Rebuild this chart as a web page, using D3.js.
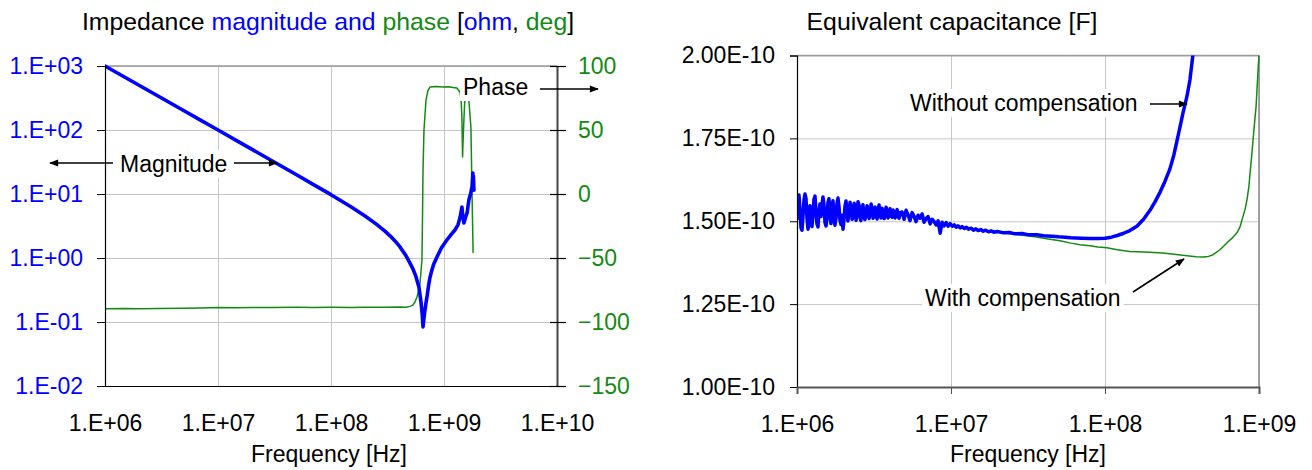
<!DOCTYPE html>
<html>
<head>
<meta charset="utf-8">
<script src="https://cdn.jsdelivr.net/npm/d3@7"></script>
<style>
  body { margin: 0; background: #fff; }
  svg { display: block; }
  text { font-family: "Liberation Sans", Arial, Helvetica, sans-serif; }
</style>
</head>
<body>
<svg id="chart" width="1312" height="470"></svg>
<script>
// ---------------- data ----------------
// Impedance panel
const impFreqTicks = [1e6, 1e7, 1e8, 1e9, 1e10];
const magTicks = [1e-2, 1e-1, 1e0, 1e1, 1e2, 1e3];
const phaseTicks = [-150, -100, -50, 0, 50, 100];

// |Z| in ohm vs frequency in Hz
const magnitude = [
  [1e6, 1000], [1.5e6, 668], [2e6, 500], [3e6, 334], [5e6, 200], [7e6, 143],
  [1e7, 100], [1.5e7, 66.5], [2e7, 49.8], [3e7, 33.1], [5e7, 19.8], [7e7, 14.0],
  [1e8, 9.76], [1.5e8, 6.31], [2e8, 4.53], [2.5e8, 3.41], [3e8, 2.63], [3.33e8, 2.22],
  [3.7e8, 1.83], [4.08e8, 1.49], [4.6e8, 1.09], [5.0e8, 0.83], [5.32e8, 0.67],
  [5.65e8, 0.51], [6.0e8, 0.35], [6.25e8, 0.21], [6.42e8, 0.13], [6.52e8, 0.084],
  [6.7e8, 0.13], [6.9e8, 0.19], [7.1e8, 0.26], [7.3e8, 0.37], [7.52e8, 0.50],
  [7.8e8, 0.64], [8.1e8, 0.80], [8.67e8, 1.04], [9.5e8, 1.45], [1.06e9, 1.91],
  [1.15e9, 2.3], [1.25e9, 2.74], [1.33e9, 3.3], [1.39e9, 4.37], [1.44e9, 6.26],
  [1.47e9, 4.3], [1.50e9, 3.52], [1.55e9, 4.3], [1.60e9, 5.05], [1.66e9, 8.06],
  [1.72e9, 10.2], [1.77e9, 12.9], [1.80e9, 21.3], [1.81e9, 13.0], [1.82e9, 19.0],
  [1.84e9, 11.5]
];

// phase in degrees vs frequency in Hz
const phase = [
  [1e6, -89.6], [1.5e6, -89.5], [2e6, -89.7], [3e6, -89.4], [5e6, -89.3], [7e6, -89.0],
  [1e7, -88.7], [1.5e7, -88.8], [2e7, -88.6], [3e7, -88.7], [5e7, -88.5], [7e7, -88.6],
  [1e8, -88.5], [1.5e8, -88.6], [2e8, -88.4], [3e8, -88.5], [4e8, -88.3], [4.6e8, -88.4],
  [5.0e8, -87.8], [5.3e8, -86.8], [5.53e8, -84.4], [5.77e8, -80.5], [6.1e8, -72.0],
  [6.38e8, -51.6], [6.45e8, -20.0], [6.52e8, 18.8], [6.65e8, 50.0], [6.93e8, 73.4],
  [7.2e8, 80.5], [7.52e8, 83.6], [8.5e8, 84.0], [9.8e8, 83.6], [1.1e9, 83.8],
  [1.2e9, 83.2], [1.30e9, 82.8], [1.36e9, 80.5], [1.39e9, 78.9], [1.42e9, 72.0],
  [1.44e9, 60.0], [1.46e9, 28.9], [1.48e9, 45.0], [1.50e9, 57.8], [1.53e9, 75.0],
  [1.57e9, 76.5], [1.60e9, 75.8], [1.66e9, 73.0], [1.73e9, 52.3], [1.77e9, 0.8],
  [1.81e9, -46.0]
];

// Capacitance panel
const capFreqTicks = [1e6, 1e7, 1e8, 1e9];
const capTicks = [1.00e-10, 1.25e-10, 1.50e-10, 1.75e-10, 2.00e-10];

// noisy low-frequency band, common to both measurements: [MHz, pF]
const capLowBand = [
  [1.000, 150.5], [1.015, 155.8], [1.030, 157.9], [1.046, 153.2], [1.062, 148.0],
  [1.078, 147.3], [1.094, 151.6], [1.110, 156.4], [1.127, 158.2], [1.144, 156.9],
  [1.161, 150.8], [1.179, 147.6], [1.196, 149.9], [1.214, 154.7], [1.233, 152.1],
  [1.251, 148.4], [1.270, 151.9], [1.289, 156.6], [1.309, 157.6], [1.328, 153.0],
  [1.348, 149.1], [1.369, 148.3], [1.389, 152.8], [1.410, 155.2], [1.431, 151.4],
  [1.453, 154.9], [1.475, 157.3], [1.497, 155.0], [1.520, 149.6], [1.543, 148.6],
  [1.566, 150.7], [1.589, 155.6], [1.613, 156.8], [1.638, 152.4], [1.662, 149.3],
  [1.687, 153.6], [1.713, 156.2], [1.739, 151.1], [1.765, 148.8], [1.791, 150.9],
  [1.818, 155.3], [1.846, 157.0], [1.874, 154.4], [1.902, 150.2], [1.931, 149.0],
  [1.960, 151.8], [1.989, 147.6], [2.019, 150.4], [2.050, 154.6], [2.080, 156.1],
  [2.110, 153.5], [2.140, 150.1], [2.180, 152.7], [2.210, 155.7], [2.240, 154.0],
  [2.280, 150.6], [2.310, 151.3], [2.350, 155.4], [2.380, 153.0], [2.420, 150.3],
  [2.450, 152.4], [2.490, 155.9], [2.530, 154.8], [2.570, 151.0], [2.600, 150.2],
  [2.640, 153.1], [2.680, 155.0], [2.720, 152.2], [2.760, 150.5], [2.810, 151.9],
  [2.850, 154.7], [2.890, 153.6], [2.940, 150.8], [2.980, 152.6], [3.030, 155.2],
  [3.070, 153.4], [3.120, 150.9], [3.160, 151.7], [3.210, 154.3], [3.260, 152.0],
  [3.310, 150.7], [3.360, 153.3], [3.410, 154.9], [3.460, 151.8], [3.510, 151.0],
  [3.570, 153.9], [3.620, 152.4], [3.680, 150.8], [3.730, 152.3], [3.790, 154.2],
  [3.840, 152.9], [3.900, 151.0], [3.960, 152.1], [4.020, 153.8], [4.080, 151.6],
  [4.140, 151.2], [4.210, 153.4], [4.270, 152.5], [4.330, 151.0], [4.400, 152.2],
  [4.470, 153.5], [4.530, 151.5], [4.600, 150.9], [4.670, 152.6], [4.810, 152.8],
  [4.960, 150.6], [5.110, 153.3], [5.260, 151.9], [5.420, 150.2], [5.590, 152.6],
  [5.760, 151.5], [5.930, 149.9], [6.110, 151.8], [6.300, 150.9], [6.490, 152.2],
  [6.690, 149.7], [6.890, 150.8], [7.100, 151.4], [7.320, 149.2], [7.540, 150.6],
  [7.770, 149.9], [8.000, 148.9], [8.250, 150.1], [8.500, 146.4], [8.760, 149.7],
  [9.020, 148.6], [9.300, 149.6], [9.580, 148.5], [9.870, 149.3], [10.20, 148.5],
  [10.50, 148.9], [10.80, 148.2], [11.10, 148.6], [11.50, 148.0], [11.80, 148.4],
  [12.20, 147.8], [12.60, 148.2], [13.00, 147.6], [13.50, 147.9], [14.00, 147.3],
  [14.50, 147.7], [15.00, 147.2], [15.60, 147.5], [16.20, 147.0], [16.80, 147.3],
  [17.50, 146.8], [18.20, 147.1], [19.00, 146.7], [20.00, 146.9]
];

// high-frequency part without compensation: [MHz, pF]
const capWithoutTail = [
  [22, 146.5], [24, 146.6], [26, 146.2], [29, 146.3], [32, 145.9], [36, 145.9],
  [40, 145.6], [45, 145.5], [50, 145.3], [55, 145.2], [60, 145.0], [70, 144.9],
  [80, 144.8], [90, 144.8], [100, 144.9], [110, 145.2], [120, 145.7], [131, 146.3],
  [145, 147.2], [161, 148.5], [178, 150.6], [196, 153.3], [212, 156.0], [228, 158.8],
  [245, 162.0], [264, 165.8], [280, 170.0], [294, 174.5], [308, 178.8], [321, 182.7],
  [341, 187.8], [356, 192.6], [373, 200.5]
];

// high-frequency part with compensation: [MHz, pF]
const capWithTail = [
  [23, 146.4], [27, 146.0], [30, 145.7], [35, 145.3], [40, 144.9], [45, 144.5],
  [51, 144.1], [60, 143.4], [69, 142.9], [80, 142.6], [90, 142.2], [103, 142.0],
  [120, 141.4], [145, 140.9], [180, 140.7], [238, 140.4], [290, 140.0], [341, 139.6],
  [390, 139.3], [433, 139.2], [470, 139.4], [503, 139.9], [558, 141.4], [620, 143.5],
  [668, 144.9], [719, 146.5], [753, 148.3], [776, 150.5], [811, 153.5], [836, 156.5],
  [861, 160.7], [875, 164.6], [901, 170.9], [915, 174.5], [942, 181.2], [957, 184.5],
  [978, 192.6], [989, 196.5], [1000, 200.4]
];

const capWithout = capLowBand.concat(capWithoutTail);
const capWith = capLowBand.concat(capWithTail);

// ---------------- drawing ----------------
const BLUE = "#0000ff";
const GREEN = "#138a13";
const GRID = "#c6c6c6";
const LABEL_SIZE = "23px";
const TITLE_SIZE = "24.8px";
const MHZ = 1e6, PF = 1e-12;

const svg = d3.select("#chart");

const defs = svg.append("defs");
defs.append("marker")
  .attr("id", "arrowhead")
  .attr("viewBox", "0 -5 10 10")
  .attr("refX", 9).attr("refY", 0)
  .attr("markerUnits", "userSpaceOnUse")
  .attr("markerWidth", 10).attr("markerHeight", 9)
  .attr("orient", "auto")
  .append("path").attr("d", "M0,-4L10,0L0,4Z").attr("fill", "#000");

const decadeLabel = v => {
  const e = Math.round(Math.log10(v));
  return "1.E" + (e < 0 ? "-" : "+") + String(Math.abs(e)).padStart(2, "0");
};
const capLabel = v => v.toExponential(2).toUpperCase();

function styleGrid(g) {
  g.select(".domain").remove();
  g.selectAll(".tick line").attr("stroke", GRID).attr("stroke-width", 1);
}

function annotate(parent, x, y, label, anchor) {
  const t = parent.append("text")
    .attr("x", x).attr("y", y)
    .attr("text-anchor", anchor || "start")
    .attr("font-size", LABEL_SIZE).attr("fill", "#000")
    .text(label);
  const b = t.node().getBBox();
  parent.insert("rect", () => t.node())
    .attr("x", b.x - 3).attr("y", b.y - 1)
    .attr("width", b.width + 6).attr("height", b.height + 2)
    .attr("fill", "#fff");
  return t;
}

function arrow(parent, x1, y1, x2, y2) {
  parent.append("line")
    .attr("x1", x1).attr("y1", y1).attr("x2", x2).attr("y2", y2)
    .attr("stroke", "#000").attr("stroke-width", 1.6)
    .attr("marker-end", "url(#arrowhead)");
}

// ===== Left panel: impedance magnitude and phase =====
const L = { x0: 105, x1: 557, y0: 66, y1: 386 };
const xL = d3.scaleLog().domain([1e6, 1e10]).range([L.x0, L.x1]);
const yMag = d3.scaleLog().domain([1e-2, 1e3]).range([L.y1, L.y0]);
const yPh = d3.scaleLinear().domain([-150, 100]).range([L.y1, L.y0]);

const gL = svg.append("g");

// grid
gL.append("g").attr("transform", `translate(0,${L.y1})`)
  .call(d3.axisBottom(xL).tickValues(impFreqTicks).tickSize(-(L.y1 - L.y0)).tickFormat(""))
  .call(styleGrid);
gL.append("g").attr("transform", `translate(${L.x0},0)`)
  .call(d3.axisLeft(yMag).tickValues(magTicks).tickSize(-(L.x1 - L.x0)).tickFormat(""))
  .call(styleGrid);

// frame
gL.append("line").attr("x1", L.x0).attr("x2", L.x1).attr("y1", L.y0).attr("y2", L.y0)
  .attr("stroke", "#9a9a9a").attr("stroke-width", 1.5);

// curves
defs.append("clipPath").attr("id", "clipL").append("rect")
  .attr("x", L.x0).attr("y", L.y0 - 2).attr("width", L.x1 - L.x0).attr("height", L.y1 - L.y0 + 2);
const curvesL = gL.append("g").attr("clip-path", "url(#clipL)");
curvesL.append("path").datum(phase)
  .attr("fill", "none").attr("stroke", GREEN).attr("stroke-width", 1.5)
  .attr("stroke-linejoin", "round")
  .attr("d", d3.line().x(d => xL(d[0])).y(d => yPh(d[1])));
curvesL.append("path").datum(magnitude)
  .attr("fill", "none").attr("stroke", BLUE).attr("stroke-width", 3.6)
  .attr("stroke-linejoin", "round").attr("stroke-linecap", "round")
  .attr("d", d3.line().x(d => xL(d[0])).y(d => yMag(d[1])));

// left axis (magnitude)
const axMag = gL.append("g").attr("transform", `translate(${L.x0},0)`)
  .call(d3.axisLeft(yMag).tickValues(magTicks).tickSize(8).tickPadding(14).tickFormat(decadeLabel));
axMag.select(".domain").attr("stroke", "#000").attr("stroke-width", 1.2);
axMag.selectAll(".tick line").attr("stroke", "#000");
axMag.selectAll(".tick text").attr("fill", BLUE).attr("font-size", LABEL_SIZE)
  .attr("font-family", null);

// right axis (phase), ticks crossing the axis line
const axPh = gL.append("g").attr("transform", `translate(${L.x1},0)`)
  .call(d3.axisRight(yPh).tickValues(phaseTicks).tickSize(0).tickPadding(21));
axPh.select(".domain").attr("stroke", "#444").attr("stroke-width", 2);
axPh.selectAll(".tick text").attr("fill", GREEN).attr("font-size", LABEL_SIZE)
  .attr("font-family", null);
axPh.selectAll(".tick").append("line")
  .attr("x1", -7).attr("x2", 9).attr("stroke", "#000").attr("stroke-width", 1.2);

// bottom axis
const axXL = gL.append("g").attr("transform", `translate(0,${L.y1})`)
  .call(d3.axisBottom(xL).tickValues(impFreqTicks).tickSize(0).tickPadding(29).tickFormat(decadeLabel));
axXL.select(".domain").attr("stroke", "#000").attr("stroke-width", 1.2);
axXL.selectAll(".tick text").attr("fill", "#000").attr("font-size", LABEL_SIZE)
  .attr("font-family", null);

// title with coloured words
const titleL = gL.append("text").attr("x", 328).attr("y", 30)
  .attr("text-anchor", "middle").attr("font-size", TITLE_SIZE);
[["Impedance ", "#000"], ["magnitude and ", BLUE], ["phase ", GREEN], ["[", "#000"],
 ["ohm", BLUE], [", ", "#000"], ["deg", GREEN], ["]", "#000"]]
  .forEach(([s, c]) => titleL.append("tspan").attr("fill", c).text(s));

gL.append("text").attr("x", 329).attr("y", 462).attr("text-anchor", "middle")
  .attr("font-size", LABEL_SIZE).text("Frequency [Hz]");

// annotations
annotate(gL, 120, 172, "Magnitude");
arrow(gL, 113, 163, 50, 163);
arrow(gL, 234, 163, 277, 163);
annotate(gL, 463, 95, "Phase");
arrow(gL, 540, 89, 598, 89);

// ===== Right panel: equivalent capacitance =====
const R = { x0: 797, x1: 1259, y0: 55.5, y1: 387 };
const xR = d3.scaleLog().domain([1e6, 1e9]).range([R.x0, R.x1]);
const yC = d3.scaleLinear().domain([1.0e-10, 2.0e-10]).range([R.y1, R.y0]);

const gR = svg.append("g");

gR.append("g").attr("transform", `translate(0,${R.y1})`)
  .call(d3.axisBottom(xR).tickValues(capFreqTicks).tickSize(-(R.y1 - R.y0)).tickFormat(""))
  .call(styleGrid);
gR.append("g").attr("transform", `translate(${R.x0},0)`)
  .call(d3.axisLeft(yC).tickValues(capTicks).tickSize(-(R.x1 - R.x0)).tickFormat(""))
  .call(styleGrid);

gR.append("line").attr("x1", R.x0).attr("x2", R.x1).attr("y1", R.y0).attr("y2", R.y0)
  .attr("stroke", "#9a9a9a").attr("stroke-width", 1.5);
gR.append("line").attr("x1", R.x1).attr("x2", R.x1).attr("y1", R.y0).attr("y2", R.y1)
  .attr("stroke", "#8a8a8a").attr("stroke-width", 1.5);

defs.append("clipPath").attr("id", "clipR").append("rect")
  .attr("x", R.x0).attr("y", R.y0).attr("width", R.x1 - R.x0 + 1).attr("height", R.y1 - R.y0);

// annotation boxes sit under the curves
annotate(gR, 910, 111, "Without compensation");
annotate(gR, 925, 306, "With compensation");

const curvesR = gR.append("g").attr("clip-path", "url(#clipR)");
const capLine = d3.line().x(d => xR(d[0] * MHZ)).y(d => yC(d[1] * PF));
curvesR.append("path").datum(capWith)
  .attr("fill", "none").attr("stroke", GREEN).attr("stroke-width", 1.5)
  .attr("stroke-linejoin", "round").attr("d", capLine);
curvesR.append("path").datum(capWithout)
  .attr("fill", "none").attr("stroke", BLUE).attr("stroke-width", 3.5)
  .attr("stroke-linejoin", "round").attr("d", capLine);

const axC = gR.append("g").attr("transform", `translate(${R.x0},0)`)
  .call(d3.axisLeft(yC).tickValues(capTicks).tickSize(7).tickPadding(15).tickFormat(capLabel));
axC.select(".domain").attr("stroke", "#000").attr("stroke-width", 1.2);
axC.selectAll(".tick line").attr("stroke", "#000");
axC.selectAll(".tick text").attr("fill", "#000").attr("font-size", LABEL_SIZE)
  .attr("font-family", null);

const axXR = gR.append("g").attr("transform", `translate(0,${R.y1})`)
  .call(d3.axisBottom(xR).tickValues(capFreqTicks).tickSize(7).tickPadding(22).tickFormat(decadeLabel));
axXR.select(".domain").attr("stroke", "#555").attr("stroke-width", 2);
axXR.selectAll(".tick line").attr("stroke", "#555");
axXR.selectAll(".tick text").attr("fill", "#000").attr("font-size", LABEL_SIZE)
  .attr("font-family", null);

gR.append("text").attr("x", 952).attr("y", 30).attr("text-anchor", "middle")
  .attr("font-size", TITLE_SIZE).text("Equivalent capacitance [F]");
gR.append("text").attr("x", 1028).attr("y", 462).attr("text-anchor", "middle")
  .attr("font-size", LABEL_SIZE).text("Frequency [Hz]");

arrow(gR, 1150, 104, 1187, 104);
arrow(gR, 1133, 292, 1184, 259);
</script>
</body>
</html>
